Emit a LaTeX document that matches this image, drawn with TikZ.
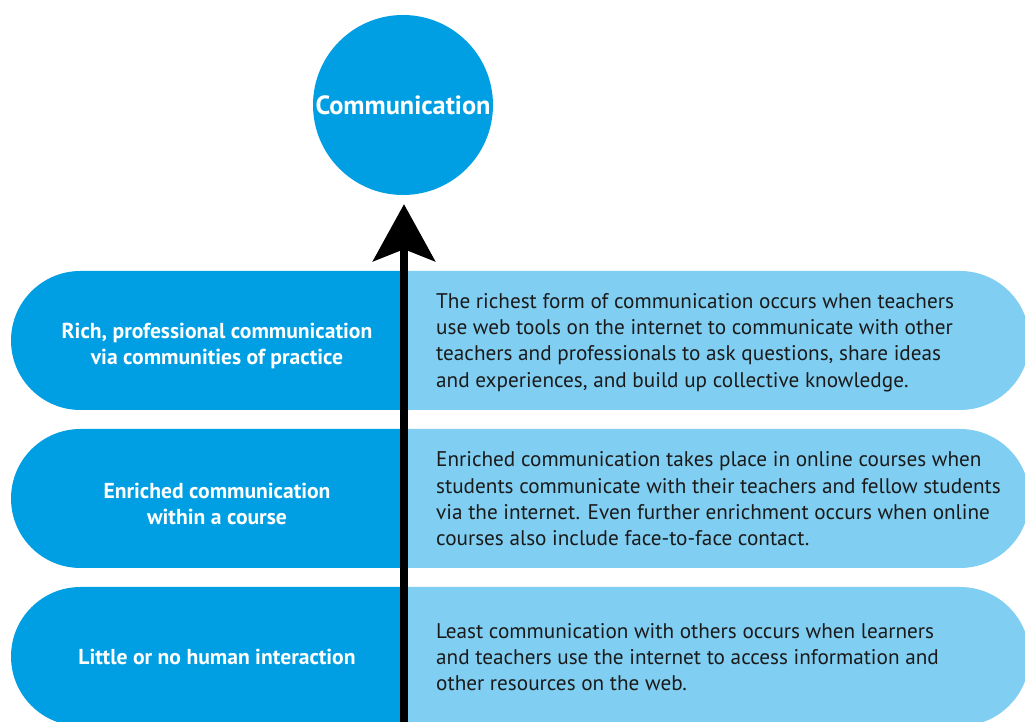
\documentclass[tikz,border=0pt]{standalone}
\usepackage{fontspec}
\setmainfont{PT Sans}
\usetikzlibrary{arrows.meta}
\definecolor{darkblue}{HTML}{009FE3}
\definecolor{lightblue}{HTML}{80CEF1}
\definecolor{txt}{HTML}{1A1A1A}
\tikzset{
  darkband/.style={fill=darkblue},
  lightband/.style={fill=lightblue},
  lefttext/.style={text=white, font=\fontsize{21.6}{26}\selectfont\bfseries, align=center},
  righttext/.style={text=txt, font=\fontsize{21.2}{26.3}\selectfont, align=left, anchor=west, inner sep=0pt},
  mainarrow/.style={line width=8pt, -{Stealth[length=57pt,width=62pt,inset=12pt]}}
}
\begin{document}
\begin{tikzpicture}[x=1pt,y=1pt]
\useasboundingbox (0,0) rectangle (1025,722);
\begin{scope}
\clip (0,0) rectangle (1025,722);
% bands: top y, bottom y
\foreach \t/\b in {451/312, 293/154, 135/-4}{
  \pgfmathsetmacro{\r}{(\t-\b)/2}
  \fill[lightband] (404,\t) -- (960,\t) arc[start angle=90,end angle=-90,radius=\r] -- (404,\b) -- cycle;
  \fill[darkband] (404,\t) -- (80.5,\t) arc[start angle=90,end angle=270,radius=\r] -- (404,\b) -- cycle;
}
\end{scope}
\node[circle, fill=darkblue, minimum size=180pt, inner sep=0pt, text=white, font=\fontsize{26.3}{30}\selectfont\bfseries] (comm) at (403,617) {Communication};

\node[lefttext] (l1) at (217,376.5) {Rich, professional communication\\via communities of practice};
\node[lefttext] (l2) at (217,218.5) {Enriched communication\\within a course};
\node[lefttext] (l3) at (217,65.5) {Little or no human interaction};

\node[righttext] (r1) at (436,379.5) {The richest form of communication occurs when teachers\\use web tools on the internet to communicate with other\\teachers and professionals to ask questions, share ideas\\and experiences, and build up collective knowledge.};
\node[righttext] (r2) at (436,223) {Enriched communication takes place in online courses when\\students communicate with their teachers and fellow students\\via the internet. Even further enrichment occurs when online\\courses also include face-to-face contact.};
\node[righttext] (r3) at (436,65) {Least communication with others occurs when learners\\and teachers use the internet to access information and\\other resources on the web.};

\coordinate (base) at (404,-2);
\draw[mainarrow] (base) -- ([yshift=-9pt]comm.south -| base);
\end{tikzpicture}
\end{document}
